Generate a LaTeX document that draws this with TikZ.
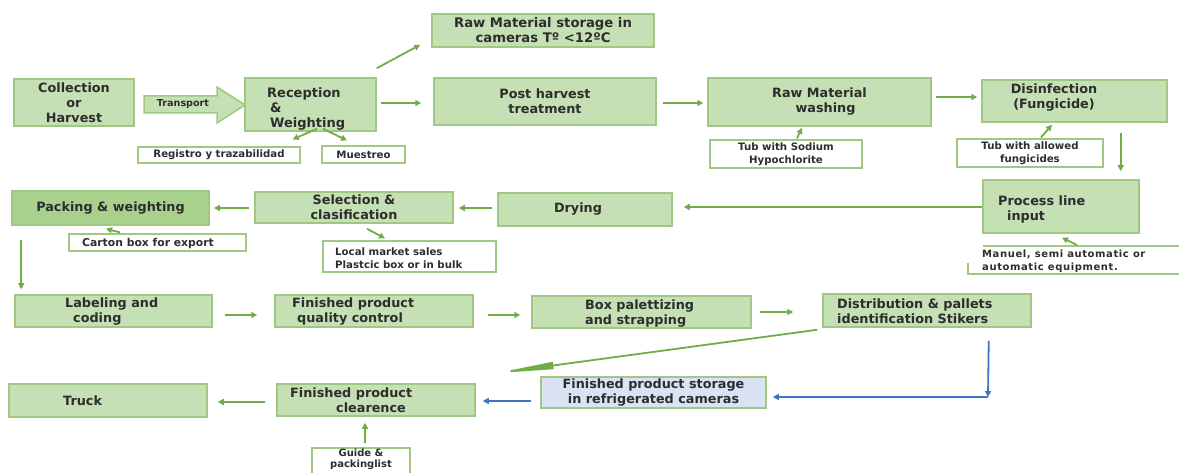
\documentclass[tikz,border=0pt]{standalone}
\usepackage{fontspec}
\setmainfont{DejaVu Sans}
\newfontfamily\wideff[LetterSpace=6]{DejaVu Sans}
\usetikzlibrary{arrows.meta,calc}
\definecolor{bfill}{RGB}{197,224,180}
\definecolor{bdraw}{RGB}{160,200,130}
\definecolor{pfill}{RGB}{169,209,142}
\definecolor{sfill}{RGB}{218,227,243}
\definecolor{agreen}{RGB}{112,173,71}
\definecolor{ablue}{RGB}{68,114,196}
\definecolor{txt}{RGB}{45,45,45}
\newcommand\fmain{\bfseries\fontsize{12.8}{15}\selectfont}
\newcommand\fsmall{\bfseries\fontsize{10.2}{13.5}\selectfont}
\tikzset{
  box/.style={draw=bdraw, fill=bfill, line width=1.5pt, inner sep=0pt, text=txt, font=\fmain, align=center},
  wbox/.style={draw=bdraw, fill=white, line width=1.2pt, inner sep=0pt, text=txt, font=\fsmall, align=center},
  txtl/.style={text=txt, font=\fmain, align=left, inner sep=0pt, anchor=west},
  txtc/.style={text=txt, font=\fmain, align=center, inner sep=0pt},
  ga/.style={draw=agreen, line width=1.8pt, -{Triangle[length=6pt,width=6pt]}},
  ba/.style={draw=ablue, line width=1.8pt, -{Triangle[length=6pt,width=6pt]}}
}
\begin{document}
\begin{tikzpicture}[x=1pt,y=-1pt]
\useasboundingbox (0,0) rectangle (1179,473);
\clip (0,0) rectangle (1179,473);
% ---- row 1
\node[box, minimum width=120pt, minimum height=47pt] (coll) at (74,102.5) {Collection\\or\\Harvest};
\draw[draw=bdraw, fill=bfill, line width=1.5pt] (144,96) -- (217,96) -- (217,87) -- (245,105) -- (217,123) -- (217,113) -- (144,113) -- cycle;
\node[txtc, font=\bfseries\fontsize{9.6}{12}\selectfont] (transport) at (183,104.5) {Transport};
\node[box, minimum width=131pt, minimum height=53pt] (recep) at (310.5,104.5) {};
\node[txtl, font=\bfseries\fontsize{13}{15}\selectfont] (recept) at (267,109) {Reception\\\hspace*{3pt}\&\\\hspace*{3pt}Weighting};
\node[wbox, minimum width=162pt, minimum height=16pt] (registro) at (219,155) {Registro y trazabilidad};
\node[wbox, minimum width=83pt, minimum height=17pt] (muestreo) at (363.5,154.5) {Muestreo};
\node[box, minimum width=222pt, minimum height=33pt, font=\bfseries\fontsize{13.2}{15}\selectfont] (rawst) at (543,30.5) {Raw Material storage in\\cameras Tº <12ºC};
\node[box, minimum width=222pt, minimum height=47pt] (post) at (545,101.5) {Post harvest\\treatment};
\node[box, minimum width=223pt, minimum height=48pt] (wash) at (819.5,102) {Raw Material\\\hspace*{12pt}washing};
\node[wbox, minimum width=152pt, minimum height=28pt] (tubA) at (786,154) {Tub with Sodium\\Hypochlorite};
\node[box, minimum width=185pt, minimum height=42pt] (disinf) at (1074.5,101) {};
\node[txtc] (disinft) at (1054,97.5) {Disinfection\\(Fungicide)};
\node[wbox, minimum width=146pt, minimum height=28pt] (tubB) at (1030,153) {Tub with allowed\\fungicides};
% ---- row 2
\node[box, minimum width=156pt, minimum height=53pt] (proc) at (1061,206.5) {};
\node[txtl] (proct) at (998,209) {Process line\\\hspace*{9pt}input};
\draw[draw=bdraw, line width=1.2pt] (983,246) -- (1179,246);
\draw[draw=bdraw, line width=1.2pt] (968,263) -- (968,274) -- (1179,274);
\node[txtl, font=\wideff\bfseries\fontsize{10}{13}\selectfont] (manuel) at (982,261.5) {Manuel, semi automatic or\\automatic equipment.};
\coordinate (mtop) at (1077,245);
\node[box, minimum width=174pt, minimum height=33pt] (drying) at (585,209.5) {};
\node[txtc] (dryingt) at (578,209.5) {Drying};
\node[box, minimum width=198pt, minimum height=31pt] (select) at (354,207.5) {Selection \&\\clasification};
\node[wbox, minimum width=173pt, minimum height=31pt] (local) at (409.5,256.5) {};
\node[txtl, font=\fsmall] (localt) at (335,258) {Local market sales\\Plastcic box or in bulk};
\node[box, fill=pfill, minimum width=197pt, minimum height=34pt] (pack) at (110.5,208) {Packing \& weighting};
\node[wbox, minimum width=177pt, minimum height=17pt] (carton) at (157.5,242.5) {};
\node[txtl, font=\bfseries\fontsize{10.8}{13}\selectfont] (cartont) at (82,243.5) {Carton box for export};
% ---- row 3
\node[box, minimum width=197pt, minimum height=32pt] (label) at (113.5,311) {};
\node[txtl] (labelt) at (65,311.5) {Labeling and\\\hspace*{8pt}coding};
\node[box, minimum width=198pt, minimum height=32pt] (fpqc) at (374,311) {};
\node[txtl] (fpqct) at (292,312) {Finished product\\\hspace*{5pt}quality control};
\node[box, minimum width=219pt, minimum height=32pt] (boxpal) at (641.5,312) {};
\node[txtl] (boxpalt) at (585,313.5) {Box palettizing\\and strapping};
\node[box, minimum width=208pt, minimum height=33pt] (distr) at (927,310.5) {};
\node[txtl] (distrt) at (837,311.5) {Distribution \& pallets\\identification Stikers};
% ---- row 4
\node[box, fill=sfill, minimum width=225pt, minimum height=31pt] (stor) at (653.5,392.5) {Finished product storage\\in refrigerated cameras};
\node[box, minimum width=198pt, minimum height=32pt] (clear) at (376,400) {};
\node[txtl] (cleart) at (290,400.5) {Finished product\\\hspace*{46pt}clearence};
\node[box, minimum width=198pt, minimum height=33pt] (truck) at (108,400.5) {};
\node[txtl] (truckt) at (63,401) {Truck};
\node[wbox, minimum width=98pt, minimum height=32pt] (guide) at (361,464) {};
\node[txtc, font=\bfseries\fontsize{10}{11.5}\selectfont] (guidet) at (361,459.5) {Guide \&\\packinglist};
\coordinate (bcorner) at (988,397);
% ---- connectors
\draw[ga] ($(recep.north east)+(0,-9)$) -- ($(rawst.south west)+(-11,-3)$);
\draw[ga] ($(recep.east)+(4,-1.5)$) -- ($(post.west)+(-12,1.5)$);
\draw[ga] ($(recep.south)+(6.5,-3)$) -- ($(registro.north east)+(-8,-7)$);
\draw[ga] ($(recep.south)+(12.5,-3)$) -- ($(muestreo.north)+(-16.5,-5)$);
\draw[ga] ($(post.east)+(6,1.5)$) -- ($(wash.west)+(-4,1)$);
\draw[ga] ($(wash.east)+(4,-5)$) -- ($(disinf.west)+(-4,-4)$);
\draw[ga] ($(tubA.north)+(11,-1)$) -- ($(wash.south)+(-17.5,1)$);
\draw[ga] ($(tubB.north)+(11,-1)$) -- ($(disinf.south)+(-22.5,2)$);
\draw[ga] ($(disinf.south east)+(-47,10)$) -- ($(proc.north east)+(-19,-8)$);
\draw[ga] (mtop) -- ($(proc.south)+(1,4)$);
\draw[ga] ($(proc.west)+(0,0.5)$) -- ($(drying.east)+(11,-2.5)$);
\draw[ga] ($(drying.west)+(-5,-1.5)$) -- ($(select.east)+(5,0.5)$);
\draw[ga] ($(select.west)+(-5,0.5)$) -- ($(pack.east)+(4,0)$);
\draw[ga] ($(carton.north)+(-37.5,-1)$) -- ($(pack.south)+(-4.5,3)$);
\draw[ga] ($(select.south)+(13,5)$) -- ($(local.north)+(-24.5,-2)$);
\draw[ga] ($(pack.south west)+(10,14)$) -- ($(label.north west)+(7,-5)$);
\draw[ga] ($(label.east)+(12,4)$) -- ($(fpqc.west)+(-17,4)$);
\draw[ga] ($(fpqc.east)+(14,4)$) -- ($(boxpal.west)+(-11,3)$);
\draw[ga] ($(boxpal.east)+(8,0)$) -- ($(distr.west)+(-29,1.5)$);
\draw[draw=agreen, line width=1.8pt, -{Triangle[length=58pt,width=7pt]}] ($(distr.south west)+(-5,2)$) -- ($(clear.north east)+(20,-10)$);
\draw[ba] ($(distr.south east)+(-43,13)$) -- (bcorner);
\draw[ba] (bcorner) -- ($(stor.east)+(6,4.5)$);
\draw[ba] ($(stor.west)+(-9,8.5)$) -- ($(clear.east)+(7,1)$);
\draw[ga] ($(clear.west)+(-11,2)$) -- ($(truck.east)+(10,1.5)$);
\draw[ga] ($(guide.north)+(4,-4)$) -- ($(clear.south)+(-11,6)$);
\end{tikzpicture}
\end{document}
